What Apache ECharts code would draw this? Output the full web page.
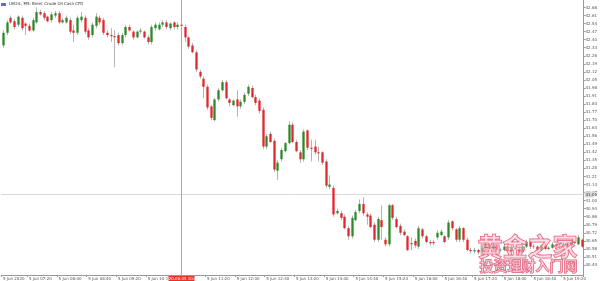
<!DOCTYPE html>
<html><head><meta charset="utf-8">
<script src="https://cdn.jsdelivr.net/npm/echarts@6/dist/echarts.min.js"></script>
<style>html,body{margin:0;padding:0;background:#fff}#c{width:600px;height:281px}</style>
</head><body><div id="c"></div>
<script>
// ---- data (prices) ----
var startTime = '06:45'; // first bar, 5 Jun 2020, M5
var opens = [42.35,42.46,42.59,42.56,42.53,42.59,42.54,42.52,42.48,42.55,42.64,42.63,42.60,42.57,42.61,42.63,42.55,42.55,42.57,42.48,
42.46,42.57,42.59,42.48,42.44,42.52,42.59,42.57,42.46,42.44,42.43,42.44,42.37,42.44,42.51,42.47,42.42,42.47,42.47,42.42,
42.38,42.50,42.49,42.53,42.55,42.50,42.55,42.51,42.53,42.51,42.42,42.35,42.29,42.12,42.06,41.99,41.82,41.70,41.88,41.96,
42.03,41.88,41.83,41.88,41.82,41.86,41.93,41.98,41.90,41.87,41.79,41.47,41.58,41.52,41.26,41.36,41.43,41.50,41.66,41.51,
41.42,41.36,41.61,41.46,41.47,41.42,41.42,41.34,41.12,41.11,40.89,40.89,40.86,40.76,40.69,40.83,40.91,40.97,40.88,40.87,
40.79,40.66,40.83,40.66,40.62,40.96,40.84,40.78,40.73,40.69,40.62,40.65,40.60,40.75,40.69,40.64,40.64,40.68,40.70,40.69,
40.68,40.82,40.75,40.66,40.76,40.66,40.57,40.56,40.57,40.55,40.59,40.62,40.58,40.61,40.57,40.57,40.60,40.56,40.59,40.58,
40.55,40.60,40.64,40.60,40.60,40.57,40.61,40.58,40.59,40.62,40.60,40.60,40.62,40.61,40.64,40.62,40.66];
var closes = [42.46,42.55,42.55,42.51,42.60,42.50,42.52,42.48,42.57,42.64,42.62,42.59,42.56,42.62,42.63,42.55,42.57,42.59,42.47,42.46,
42.59,42.60,42.47,42.42,42.53,42.60,42.55,42.46,42.44,42.43,42.42,42.37,42.44,42.51,42.48,42.42,42.47,42.48,42.42,42.38,
42.51,42.53,42.53,42.55,42.51,42.54,42.51,42.53,42.52,42.42,42.34,42.29,42.14,42.08,41.99,41.81,41.72,41.88,41.96,42.03,
41.89,41.85,41.87,41.82,41.86,41.92,41.99,41.90,41.85,41.78,41.47,41.56,41.51,41.27,41.33,41.44,41.50,41.66,41.51,41.43,
41.36,41.60,41.46,41.45,41.42,41.41,41.33,41.13,41.14,40.88,40.91,40.85,40.76,40.69,40.85,40.90,40.97,40.89,40.86,40.77,
40.66,40.84,40.77,40.62,40.96,40.85,40.77,40.72,40.70,40.57,40.63,40.61,40.76,40.69,40.64,40.63,40.63,40.72,40.73,40.64,
40.81,40.76,40.66,40.76,40.66,40.57,40.56,40.57,40.55,40.59,40.62,40.58,40.61,40.57,40.57,40.60,40.56,40.59,40.58,40.55,
40.60,40.64,40.60,40.60,40.57,40.61,40.58,40.59,40.62,40.60,40.60,40.62,40.61,40.64,40.63,40.68,40.60];
var lows = [42.33,42.44,42.54,42.49,42.51,42.48,42.44,42.47,42.47,42.54,42.61,42.57,42.55,42.55,42.59,42.54,42.54,42.54,42.45,42.38,
42.44,42.55,42.45,42.40,42.42,42.50,42.53,42.44,42.42,42.38,42.16,42.35,42.35,42.42,42.47,42.40,42.41,42.45,42.41,42.36,
42.36,42.48,42.48,42.51,42.49,42.48,42.49,42.49,42.50,42.38,42.32,42.28,42.12,42.06,41.89,41.79,41.70,41.69,41.86,41.95,
41.88,41.82,41.82,41.73,41.80,41.84,41.91,41.89,41.83,41.76,41.45,41.45,41.50,41.25,41.18,41.34,41.42,41.49,41.50,41.42,
41.33,41.34,41.44,41.34,41.40,41.34,41.31,41.11,41.10,40.86,40.88,40.83,40.75,40.66,40.67,40.82,40.89,40.87,40.79,40.76,
40.64,40.64,40.66,40.60,40.60,40.83,40.76,40.70,40.69,40.56,40.57,40.59,40.58,40.67,40.63,40.61,40.61,40.66,40.69,40.63,
40.66,40.74,40.64,40.64,40.64,40.56,40.54,40.54,40.53,40.54,40.58,40.57,40.57,40.55,40.55,40.56,40.55,40.55,40.57,40.54,
40.54,40.59,40.58,40.58,40.56,40.56,40.57,40.57,40.58,40.59,40.59,40.59,40.60,40.60,40.62,40.61,40.59];
var highs = [42.48,42.57,42.61,42.58,42.61,42.61,42.55,42.54,42.59,42.68,42.66,42.65,42.61,42.64,42.65,42.65,42.59,42.61,42.59,42.53,
42.61,42.64,42.61,42.50,42.55,42.63,42.61,42.59,42.48,42.50,42.48,42.46,42.46,42.53,42.53,42.48,42.48,42.50,42.48,42.44,
42.53,42.55,42.55,42.57,42.57,42.55,42.56,42.55,42.54,42.53,42.43,42.37,42.31,42.14,42.08,42.01,41.83,41.89,41.98,42.05,
42.05,41.89,41.88,41.96,41.88,41.94,42.01,42.00,41.92,41.89,41.81,41.58,41.60,41.54,41.35,41.46,41.51,41.69,41.68,41.53,
41.44,41.62,41.62,41.53,41.53,41.47,41.43,41.36,41.22,41.13,40.93,40.91,40.88,40.78,40.87,40.92,41.01,41.03,40.90,40.89,
40.81,40.86,40.96,40.68,40.97,40.97,40.86,40.80,40.75,40.70,40.68,40.67,40.78,40.76,40.70,40.66,40.66,40.74,40.75,40.70,
40.83,40.83,40.76,40.78,40.77,40.68,40.59,40.59,40.58,40.61,40.64,40.63,40.63,40.62,40.59,40.62,40.61,40.61,40.61,40.60,
40.62,40.66,40.65,40.62,40.61,40.62,40.63,40.60,40.64,40.63,40.62,40.64,40.63,40.65,40.65,40.70,40.67];
var yTickLabels = ['42.68','42.61','42.54','42.47','42.40','42.33','42.26','42.19','42.12','42.05','41.98','41.91','41.84','41.77','41.70','41.63','41.56',
'41.49','41.42','41.35','41.28','41.21','41.14','41.07','41.00','40.93','40.86','40.79','40.72','40.65','40.58','40.51','40.44'];
var xTickLabels = {0:'5 Jun 2020',7:'5 Jun 07:20',15:'5 Jun 08:00',23:'5 Jun 08:40',31:'5 Jun 09:20',39:'5 Jun 10:00',55:'5 Jun 11:20',
63:'5 Jun 12:00',71:'5 Jun 12:40',79:'5 Jun 13:20',87:'5 Jun 14:00',95:'5 Jun 14:40',103:'5 Jun 15:20',111:'5 Jun 16:00',
119:'5 Jun 16:40',127:'5 Jun 17:20',135:'5 Jun 18:00',143:'5 Jun 18:40',151:'5 Jun 19:20'};
var cursorIndex = 48, cursorLabel = '2020.06.05 10:45';
var hLineValue = 41.06;
var titleText = 'UKOIL, M5: Brent Crude Oil Cash CFD';

// ---- build ----
var cats = [];
(function(){var p=startTime.split(':'),m=+p[0]*60+ +p[1];
 for(var i=0;i<opens.length;i++){var t=m+5*i;cats.push(('0'+Math.floor(t/60)).slice(-2)+':'+('0'+t%60).slice(-2));}})();
var data = opens.map(function(o,i){return [i,o,closes[i],lows[i],highs[i]];});
var UP='#2a8a2a', DOWN='#e3262b';
var YMIN=40.353, YMAX=42.745;
var chart = echarts.init(document.getElementById('c'));
chart.setOption({
  animation:false,
  backgroundColor:'#fff',
  grid:{left:1,right:10,top:0,bottom:5},
  xAxis:{type:'category',data:cats,boundaryGap:true,
    axisLine:{lineStyle:{color:'#9a9a9a',width:1}},
    axisTick:{show:true,length:2,lineStyle:{color:'#9a9a9a'},interval:function(i){return xTickLabels[i]!==undefined;}},
    axisLabel:{interval:function(i){return xTickLabels[i]!==undefined;},formatter:function(v,i){return xTickLabels[i]||'';},
      align:'left',fontSize:4,margin:2,color:'#555',fontFamily:'DejaVu Sans'},
    splitLine:{show:false}},
  yAxis:{type:'value',position:'right',min:YMIN,max:YMAX,scale:true,
    axisLine:{show:true,lineStyle:{color:'#9a9a9a',width:1}},
    axisTick:{show:true,length:2,lineStyle:{color:'#9a9a9a'},customValues:yTickLabels.map(Number)},
    axisLabel:{customValues:yTickLabels.map(Number),formatter:function(v){return v.toFixed(2);},fontSize:4,margin:2,color:'#555',fontFamily:'DejaVu Sans'},
    splitLine:{show:false}},
  series:[{
    type:'custom',
    data:[[cursorIndex, hLineValue]],
    encode:{x:0,y:1},
    clip:false, z:1, silent:true,
    renderItem:function(params,api){
      var cs=params.coordSys;
      var px=api.coord([api.value(0),api.value(1)]);
      var x=Math.round(px[0])+0.5, y=Math.round(px[1])+0.5;
      var right=cs.x+cs.width, bottom=cs.y+cs.height;
      return {type:'group',children:[
        {type:'line',shape:{x1:cs.x,y1:y,x2:right,y2:y},style:{stroke:'#dadada',lineWidth:1}},
        {type:'line',shape:{x1:x,y1:cs.y,x2:x,y2:bottom},style:{stroke:'#ee8c8c',lineWidth:1}},
        {type:'rect',shape:{x:x-13,y:bottom+1,width:26,height:6},style:{fill:'#e8302a'}},
        {type:'text',x:x,y:bottom+1.5,style:{text:cursorLabel,fontSize:4,fill:'#fff',align:'center',verticalAlign:'top',fontFamily:'DejaVu Sans'}},
        {type:'rect',shape:{x:right+1,y:y-3,width:9,height:6},style:{fill:'#d8d8d8'}},
        {type:'text',x:right+2,y:y,style:{text:hLineValue.toFixed(2),fontSize:4,fill:'#333',align:'left',verticalAlign:'middle',fontFamily:'DejaVu Sans'}}
      ]};
    }
  },{
    type:'custom',
    data:data,
    encode:{x:0,y:[1,2,3,4]},
    clip:true, z:2,
    renderItem:function(params,api){
      var i=api.value(0),o=api.value(1),c=api.value(2),l=api.value(3),h=api.value(4);
      var po=api.coord([i,o]),pc=api.coord([i,c]),pl=api.coord([i,l]),ph=api.coord([i,h]);
      var w=api.size([1,0])[0]*0.62,x=Math.round(po[0])+0.5;
      var top=Math.min(po[1],pc[1]),bot=Math.max(po[1],pc[1]);
      var ch=[{type:'line',shape:{x1:x,y1:ph[1],x2:x,y2:pl[1]},style:{stroke:'#b4b4b4',lineWidth:1}}];
      if(bot-top<1){ch.push({type:'line',shape:{x1:x-w/2,y1:top,x2:x+w/2,y2:top},style:{stroke:'#8a8a8a',lineWidth:1}});}
      else{ch.push({type:'rect',shape:{x:x-w/2,y:top,width:w,height:bot-top},style:{fill:c>o?UP:DOWN}});}
      return {type:'group',children:ch};
    }
  }],
  graphic:[
    {type:'rect',left:1,top:3,shape:{width:5,height:3},style:{fill:'#5a6fd0'}},
    {type:'text',left:9,top:2,style:{text:titleText,fontSize:4,fill:'#333',fontFamily:'DejaVu Sans'}},
    {type:'text',left:477,top:233,z:100,style:{text:'黄金之家',fontSize:25,fontWeight:'bold',fontFamily:'Noto Sans CJK SC',fill:'rgba(250,190,205,0.5)',stroke:'#e4607c',lineWidth:1}},
    {type:'text',left:479,top:258,z:100,style:{text:'投资理财入门网',fontSize:14,fontWeight:'bold',fontFamily:'Noto Sans CJK SC',fill:'rgba(250,190,205,0.5)',stroke:'#e4607c',lineWidth:1}}
  ]
});
</script></body></html>
